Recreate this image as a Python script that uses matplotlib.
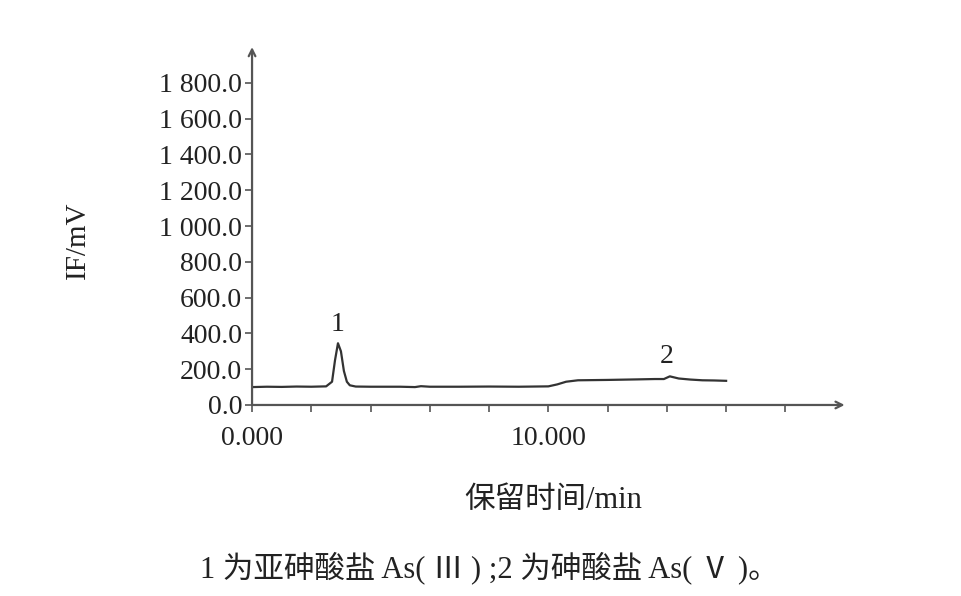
import matplotlib
matplotlib.use("Agg")
import matplotlib.pyplot as plt

plt.rcParams['font.family'] = ['Liberation Serif', 'Noto Sans CJK SC']

# chromatogram (min, mV)
time = [0, 0.5, 1.0, 1.5, 2.0, 2.5, 2.7, 2.8, 2.9, 3.0, 3.1, 3.2, 3.3, 3.5, 4.0,
        5.0, 5.5, 5.7, 6.0, 7.0, 8.0, 9.0, 10.0, 10.3, 10.6, 11.0, 12.0, 13.0,
        13.6, 13.9, 14.1, 14.4, 14.8, 15.2, 15.6, 16.0]
signal = [100, 102, 101, 103, 102, 104, 130, 250, 345, 300, 190, 130, 110, 103, 102,
          102, 100, 105, 102, 102, 103, 102, 104, 115, 130, 138, 140, 143,
          145, 145, 160, 148, 142, 138, 137, 135]

peak_labels = ['1', '2']
peak_x = [2.9, 14.0]
peak_y = [450, 270]

yticks = [0, 200, 400, 600, 800, 1000, 1200, 1400, 1600, 1800]
ytick_labels = ['0.0', '200.0', '400.0', '600.0', '800.0', '1 000.0',
                '1 200.0', '1 400.0', '1 600.0', '1 800.0']
xticks = [0, 2, 4, 6, 8, 10, 12, 14, 16, 18]
xtick_labels = ['0.000', '', '', '', '', '10.000', '', '', '', '']

fig = plt.figure(figsize=(9.62, 5.96), dpi=100)
ax = fig.add_axes([0.262, 0.3205, 0.616, 0.6005])

ax.plot(time, signal, color='#333333', lw=1.6)
for lab, px, py in zip(peak_labels, peak_x, peak_y):
    ax.text(px, py, lab, ha='center', va='center', fontsize=20, color='#222222')

ax.set_xlim(0, 20)
ax.set_ylim(0, 2000)
ax.set_xticks(xticks)
ax.set_xticklabels(xtick_labels)
ax.set_yticks(yticks)
ax.set_yticklabels(ytick_labels)
ax.tick_params(axis='both', direction='out', length=5, width=1.2, color='#555555',
               labelsize=20, labelcolor='#222222', pad=2)
ax.tick_params(axis='x', pad=10)

for s in ['top', 'right', 'left', 'bottom']:
    ax.spines[s].set_visible(False)

arrow = dict(arrowstyle='->', color='#555555', lw=1.6, shrinkA=0, shrinkB=0,
             mutation_scale=12)
ax.annotate('', xy=(1, 0), xytext=(0, 0), xycoords='axes fraction', arrowprops=arrow)
ax.annotate('', xy=(0, 1), xytext=(0, 0), xycoords='axes fraction', arrowprops=arrow)

fig.text(553 / 962, 1 - 500 / 596, '保留时间/min', ha='center', va='center',
         fontsize=22, color='#222222')
fig.text(78 / 962, 1 - 240 / 596, 'IF/mV', ha='center', va='center', rotation=90,
         fontsize=21, color='#222222')
fig.text(489 / 962, 1 - 568 / 596, '1 为亚砷酸盐 As( Ⅲ ) ;2 为砷酸盐 As( Ⅴ )。',
         ha='center', va='center', fontsize=22, color='#222222')

fig.savefig('out.png', dpi=100)
